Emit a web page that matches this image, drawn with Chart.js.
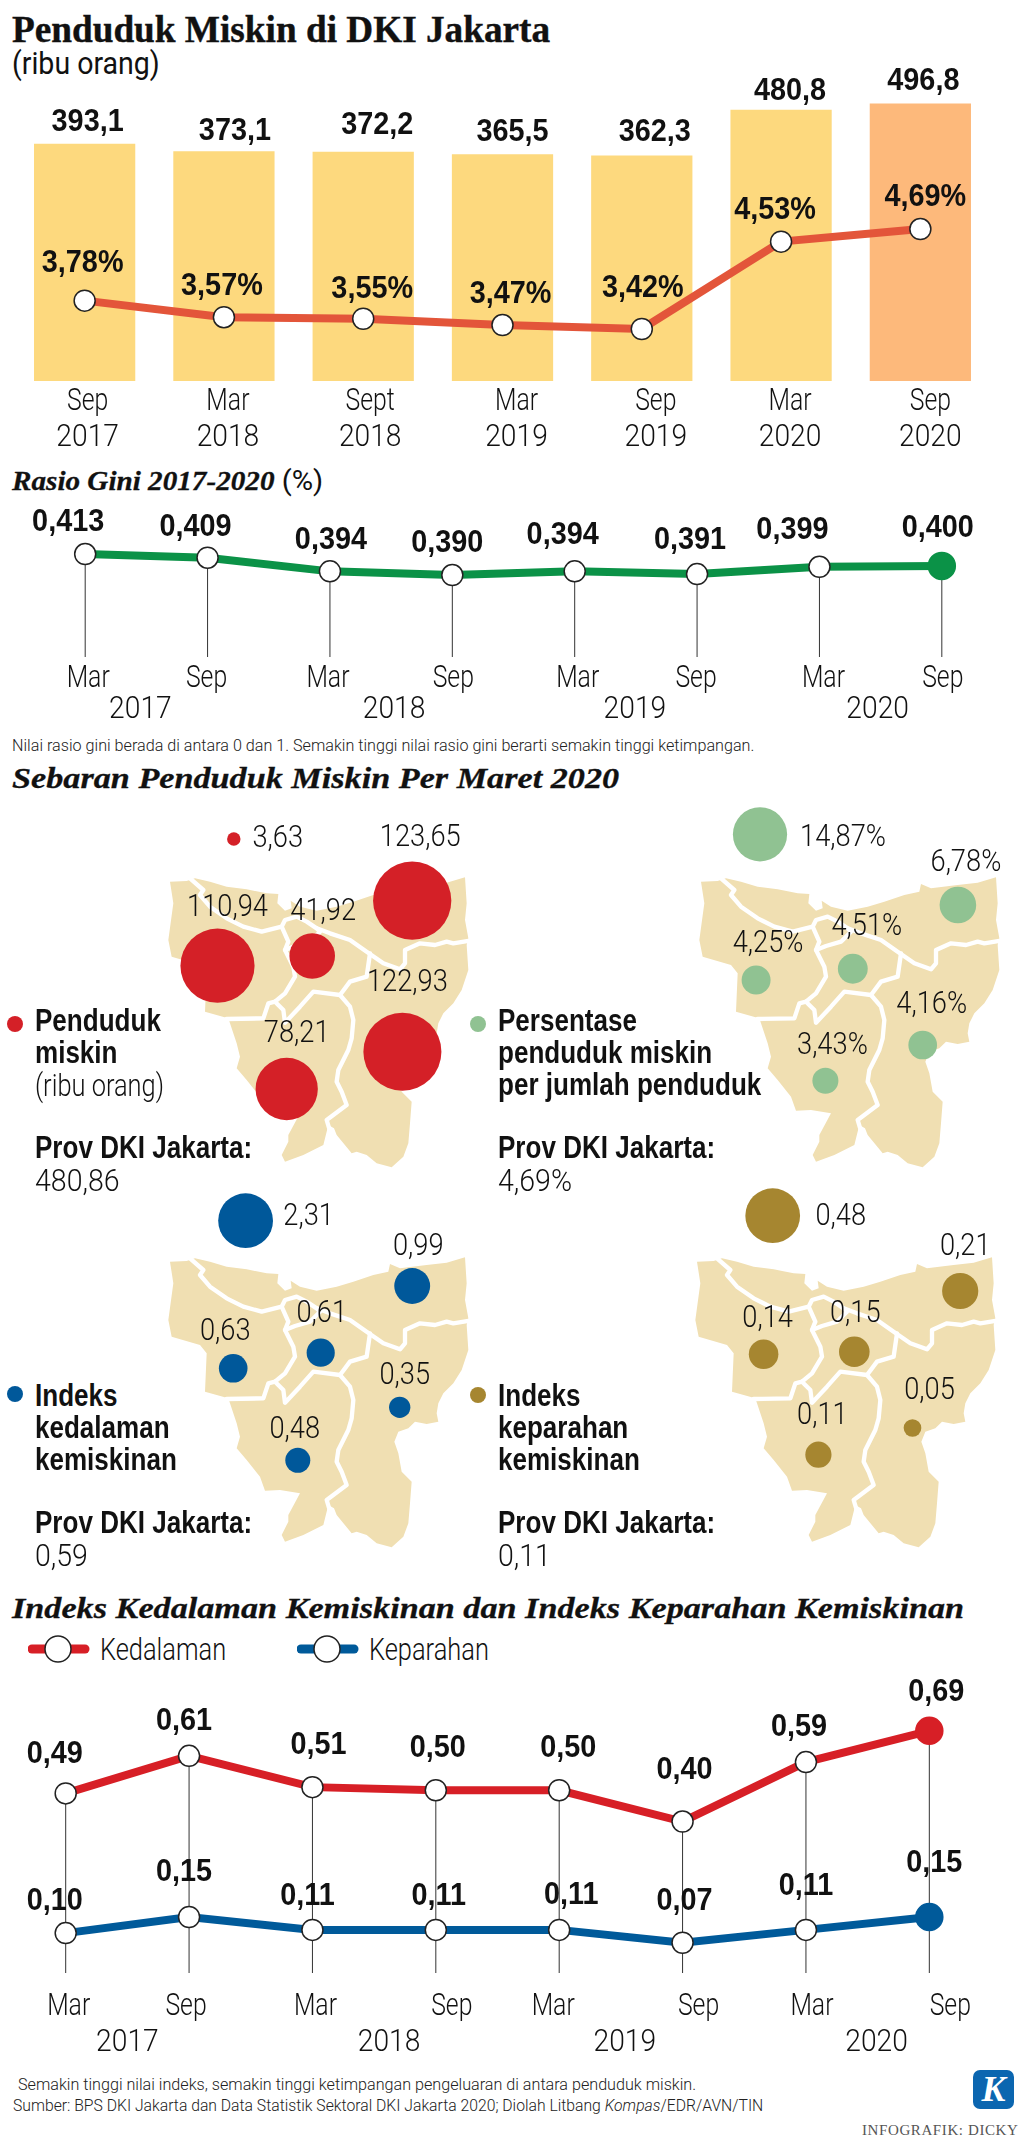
<!DOCTYPE html>
<html lang="id">
<head>
<meta charset="utf-8">
<title>Penduduk Miskin di DKI Jakarta</title>
<script src="https://cdn.jsdelivr.net/npm/chart.js@4"></script>
<style>
html, body { margin: 0; padding: 0; background: #fff; }
body { position: relative; width: 1024px; height: 2143px; overflow: hidden; color: #1a1a1a; font-family: 'Liberation Sans', sans-serif; }
canvas, svg.map, .dot, .logo, svg.key { position: absolute; }
.t { position: absolute; white-space: nowrap; transform: translateY(-50%) scaleX(var(--sx, 1)); transform-origin: left center; }
.head { font-family: 'Liberation Serif', serif; font-weight: bold; color: #111; -webkit-text-stroke: 0.4px #111; }
.sec { font-family: 'Liberation Serif', serif; font-weight: bold; font-style: italic; font-size: 30px; color: #111; --sx: 1.14; -webkit-text-stroke: 0.3px #111; }
.b { font-weight: bold; font-size: 31px; color: #111; --sx: 0.84; }
.n { font-family: Roboto, sans-serif; font-weight: 300; font-size: 31px; color: #111; --sx: 0.82; }
.note { font-family: Roboto, sans-serif; font-weight: 300; font-size: 17px; color: #222; --sx: 0.94; }
.dot { width: 16px; height: 16px; border-radius: 50%; transform: translate(-50%, -50%); }
.logo { left: 973px; top: 2070px; width: 41px; height: 39px; background: #0b66b0; border-radius: 7px; color: #fff; font: italic bold 36px/39px 'Liberation Serif', serif; text-align: center; }
</style>
</head>
<body>

<svg width="0" height="0" style="position:absolute">
  <symbol id="jakarta" viewBox="0 0 960 915">
    <path fill="#f0dfb2" d="M30,35 L80,33 L105,25 L150,35 L200,50 L260,58 L320,70 L355,72 L352,100 L375,122 L395,115 L392,92 L420,110 L470,122 L530,110 L580,95 L640,75 L685,65 L690,42 L720,55 L800,45 L860,38 L915,22 L920,100 L915,150 L925,205 L920,225 L925,300 L905,360 L880,400 L850,430 L835,460 L830,490 L835,515 L800,522 L765,515 L745,535 L715,545 L703,575 L715,610 L725,665 L755,695 L750,760 L745,820 L730,860 L695,892 L650,880 L620,855 L590,845 L575,850 L530,795 L522,775 L505,765 L490,825 L430,855 L375,875 L365,855 L385,815 L385,795 L420,730 L360,720 L315,722 L300,680 L260,630 L230,595 L240,560 L230,520 L210,460 L205,445 L135,425 L140,310 L120,285 L35,260 L25,210 L40,100 Z"/>
    <g fill="none" stroke="#fff" stroke-width="13" stroke-linejoin="round" stroke-linecap="round">
      <path d="M90,25 L130,60 L120,75 L150,110 L200,145 L250,170 L305,185 L365,170 L375,150 L410,140 L440,155 L470,175 L510,190 L570,210 L620,245 L670,280 L720,298 L735,280 L735,240 L780,220 L825,225 L860,215 L880,220 L930,212"/>
      <path d="M365,170 L385,215 L375,240 L400,290 L405,320 L375,370 L345,395 L325,400 L310,445 L200,447"/>
      <path d="M375,240 L405,228 L450,215 L480,185 L470,175"/>
      <path d="M630,250 L620,320 L570,335 L540,375 L460,365 L420,410 L375,458 L370,420 L345,395"/>
      <path d="M540,375 L570,410 L580,450 L575,505 L565,540 L535,600 L530,635 L545,665 L560,705 L520,735 L500,750 L512,790"/>
    </g>
  </symbol>
</svg>

<div class="t head" style="left:12px;top:29px;font-size:38px;--sx:0.98">Penduduk Miskin di DKI Jakarta</div>
<div class="t n" style="left:12px;top:63px;font-weight:400;--sx:0.92">(ribu orang)</div>
<canvas id="povertyChart" style="left:15px;top:60px" width="975" height="396"></canvas>

<div class="t sec" style="left:12px;top:481px;font-size:27px;--sx:1.08">Rasio Gini 2017-2020 <span style="font-family:Roboto;font-style:normal;font-weight:400;-webkit-text-stroke:0">(%)</span></div>
<canvas id="giniChart" style="left:24.4px;top:505px" width="979" height="221"></canvas>
<div class="t note" style="left:12px;top:745px;--sx:0.95">Nilai rasio gini berada di antara 0 dan 1. Semakin tinggi nilai rasio gini berarti semakin tinggi ketimpangan.</div>

<div class="t sec" style="left:12px;top:778px">Sebaran Penduduk Miskin Per Maret 2020</div>

<svg class="map" style="left:160px;top:870px" width="320" height="305"><use href="#jakarta"/></svg>
<svg class="map" style="left:690.6px;top:870px" width="320" height="305"><use href="#jakarta"/></svg>
<svg class="map" style="left:160px;top:1250px" width="320" height="305"><use href="#jakarta"/></svg>
<svg class="map" style="left:687px;top:1250px" width="320" height="305"><use href="#jakarta"/></svg>

<canvas id="poorMap" style="left:160px;top:800px" width="340" height="380"></canvas>
<canvas id="shareMap" style="left:690.6px;top:800px" width="340" height="380"></canvas>
<canvas id="depthMap" style="left:160px;top:1180px" width="340" height="380"></canvas>
<canvas id="severityMap" style="left:687px;top:1180px" width="340" height="380"></canvas>

<div class="dot" style="left:14.5px;top:1024px;background:#d42027"></div>
<div class="t b" style="left:35px;top:1021px">Penduduk</div>
<div class="t b" style="left:35px;top:1053px">miskin</div>
<div class="t n" style="left:35px;top:1085px">(ribu orang)</div>
<div class="t b" style="left:35px;top:1148px">Prov DKI Jakarta:</div>
<div class="t n" style="left:35px;top:1180px;--sx:0.92">480,86</div>

<div class="dot" style="left:478px;top:1024px;background:#90c292"></div>
<div class="t b" style="left:498px;top:1021px">Persentase</div>
<div class="t b" style="left:498px;top:1053px">penduduk miskin</div>
<div class="t b" style="left:498px;top:1085px">per jumlah penduduk</div>
<div class="t b" style="left:498px;top:1148px">Prov DKI Jakarta:</div>
<div class="t n" style="left:498px;top:1180px;--sx:0.92">4,69%</div>

<div class="dot" style="left:14.5px;top:1394px;background:#00589a"></div>
<div class="t b" style="left:35px;top:1396px">Indeks</div>
<div class="t b" style="left:35px;top:1428px">kedalaman</div>
<div class="t b" style="left:35px;top:1460px">kemiskinan</div>
<div class="t b" style="left:35px;top:1523px">Prov DKI Jakarta:</div>
<div class="t n" style="left:35px;top:1555px;--sx:0.92">0,59</div>

<div class="dot" style="left:478px;top:1395px;background:#a68630"></div>
<div class="t b" style="left:498px;top:1396px">Indeks</div>
<div class="t b" style="left:498px;top:1428px">keparahan</div>
<div class="t b" style="left:498px;top:1460px">kemiskinan</div>
<div class="t b" style="left:498px;top:1523px">Prov DKI Jakarta:</div>
<div class="t n" style="left:498px;top:1555px;--sx:0.92">0,11</div>

<div class="t sec" style="left:12px;top:1608px">Indeks Kedalaman Kemiskinan dan Indeks Keparahan Kemiskinan</div>

<svg class="key" style="left:28px;top:1630px" width="70" height="38">
  <line x1="4" y1="19" x2="57" y2="19" stroke="#d71f26" stroke-width="9" stroke-linecap="round"/>
  <circle cx="30" cy="19" r="13" fill="#fff" stroke="#222" stroke-width="1.5"/>
</svg>
<div class="t n" style="left:100px;top:1649px">Kedalaman</div>
<svg class="key" style="left:297px;top:1630px" width="70" height="38">
  <line x1="4" y1="19" x2="57" y2="19" stroke="#005a9a" stroke-width="9" stroke-linecap="round"/>
  <circle cx="30" cy="19" r="13" fill="#fff" stroke="#222" stroke-width="1.5"/>
</svg>
<div class="t n" style="left:369px;top:1649px">Keparahan</div>

<canvas id="indexChart" style="left:3.6px;top:1665px" width="987" height="394"></canvas>

<div class="t note" style="left:18px;top:2084px;--sx:0.95">Semakin tinggi nilai indeks, semakin tinggi ketimpangan pengeluaran di antara penduduk miskin.</div>
<div class="t note" style="left:13px;top:2105px;--sx:0.925">Sumber: BPS DKI Jakarta dan Data Statistik Sektoral DKI Jakarta 2020; Diolah Litbang <i>Kompas</i>/EDR/AVN/TIN</div>
<div class="logo">K</div>
<div class="t" style="left:862px;top:2130px;font:15px 'Liberation Serif',serif;letter-spacing:0.6px;color:#555">INFOGRAFIK: DICKY</div>

<script>
// Penduduk miskin (ribu orang) and persentase, per period
const povertyLabels = [['Sep', '2017'], ['Mar', '2018'], ['Sept', '2018'], ['Mar', '2019'], ['Sep', '2019'], ['Mar', '2020'], ['Sep', '2020']];
const povertyValues = [393.1, 373.1, 372.2, 365.5, 362.3, 480.8, 496.8];
const povertyRates = [3.78, 3.57, 3.55, 3.47, 3.42, 4.53, 4.69];

// Rasio gini and the two indeks share these periods
const monthLabels = ['Mar', 'Sep', 'Mar', 'Sep', 'Mar', 'Sep', 'Mar', 'Sep'];
const yearLabels = ['2017', '2018', '2019', '2020'];
const giniValues = [0.413, 0.409, 0.394, 0.390, 0.394, 0.391, 0.399, 0.400];
const depthValues = [0.49, 0.61, 0.51, 0.50, 0.50, 0.40, 0.59, 0.69];
const severityValues = [0.10, 0.15, 0.11, 0.11, 0.11, 0.07, 0.11, 0.15];

// Sebaran per wilayah, Maret 2020
const districts = ['Kepulauan Seribu', 'Jakarta Utara', 'Jakarta Barat', 'Jakarta Pusat', 'Jakarta Selatan', 'Jakarta Timur'];
const poorValues = [3.63, 123.65, 110.94, 41.92, 78.21, 122.93];
const shareValues = [14.87, 6.78, 4.25, 4.51, 3.43, 4.16];
const depthMapValues = [2.31, 0.99, 0.63, 0.61, 0.48, 0.35];
const severityMapValues = [0.48, 0.21, 0.14, 0.15, 0.11, 0.05];

// Where each bubble sits on its map
const poorMapX = [73.8, 252.2, 57.5, 152.2, 126.7, 242.4];
const poorMapY = [-31, 30.7, 95.7, 86, 219, 181.7];
const shareMapX = [69, 266.9, 65.1, 161.8, 134.4, 231.7];
const shareMapY = [-35.7, 35, 110, 98.7, 210.7, 175];
const depthMapX = [85.6, 252.2, 73.2, 160.7, 137.8, 239.7];
const depthMapY = [-29.3, 36, 118.3, 102.7, 210.3, 157.3];
const severityMapX = [85.7, 273.2, 76.6, 167.3, 131.4, 225.5];
const severityMapY = [-34.3, 41, 104.3, 101.7, 204.7, 178];

const BOLD_FONT = "bold 31px 'Liberation Sans', sans-serif";
const LIGHT_FONT = '300 31px Roboto, sans-serif';
const INK = '#111';
const comma = (v, d) => v.toFixed(d).replace('.', ',');

Chart.defaults.animation = false;
Chart.defaults.responsive = false;
Chart.defaults.layout.autoPadding = false;
Chart.defaults.plugins.legend.display = false;
Chart.defaults.plugins.tooltip.enabled = false;

// No condensed face is installed, so squeeze the text sideways
function narrowText(ctx, text, x, y, font, squeeze) {
    ctx.save();
    ctx.font = font;
    ctx.fillStyle = INK;
    ctx.textAlign = 'center';
    ctx.textBaseline = 'middle';
    ctx.translate(x, y);
    ctx.scale(squeeze, 1);
    ctx.fillText(text, 0, 0);
    ctx.restore();
}

// Value labels next to the marks, the original nudges each one by hand
const valueLabels = {
    id: 'valueLabels',
    afterDatasetsDraw(chart) {
        chart.data.datasets.forEach((ds, d) => {
            if (!ds.labelText) return;
            chart.getDatasetMeta(d).data.forEach((el, i) => {
                narrowText(chart.ctx, ds.labelText[i], el.x + ds.labelShift[i][0], el.y + ds.labelShift[i][1], ds.labelFont, ds.labelSqueeze);
            });
        });
    }
};

// Thin line from the top mark down to the month label
const dropLines = {
    id: 'dropLines',
    beforeDatasetsDraw(chart) {
        const ctx = chart.ctx;
        chart.getDatasetMeta(0).data.forEach(el => {
            ctx.save();
            ctx.strokeStyle = '#333';
            ctx.lineWidth = 1;
            ctx.beginPath();
            ctx.moveTo(el.x, el.y);
            ctx.lineTo(el.x, chart.chartArea.bottom);
            ctx.stroke();
            ctx.restore();
        });
    }
};

// Axis ticks, drawn here because the library cannot squeeze its labels
const axisLabels = {
    id: 'axisLabels',
    afterDraw(chart) {
        Object.values(chart.scales).forEach(scale => {
            if (scale.axis !== 'x') return;
            scale.ticks.forEach((tick, i) => {
                const lines = [].concat(tick.label);
                lines.forEach((line, l) => {
                    const y = scale.top + scale.options.ticks.padding + 20 + l * 36;
                    narrowText(chart.ctx, line, scale.getPixelForTick(i), y, LIGHT_FONT, /^\d/.test(line) ? 0.91 : 0.8);
                });
            });
        });
    }
};

// Tick labels in the original are not quite under their marks
function shiftTicks(shifts, band) {
    return scale => scale.ticks.forEach((tick, i) => { tick.value += shifts[i] / band; });
}

function timeAxis(labels, height, padding, shifts, band) {
    return {
        type: 'category',
        labels: labels,
        offset: true,
        position: 'bottom',
        grid: { display: false, drawTicks: false },
        border: { display: false },
        ticks: { display: false, autoSkip: false, padding: padding },
        afterFit: scale => { scale.height = height; },
        afterTickToLabelConversion: shiftTicks(shifts, band)
    };
}

function hiddenAxis(min, max) {
    return { type: 'linear', display: false, min: min, max: max };
}

function lineSeries(values, color, yAxisID, labelText, labelShift) {
    const last = values.length - 1;
    return {
        type: 'line',
        data: values,
        yAxisID: yAxisID,
        order: 0,
        clip: false,
        borderColor: color,
        borderWidth: 8,
        tension: 0,
        pointRadius: values.map((v, i) => (i === last ? 13.5 : 10.5)),
        pointBackgroundColor: values.map((v, i) => (i === last ? color : '#fff')),
        pointBorderColor: values.map((v, i) => (i === last ? color : '#222')),
        pointBorderWidth: 1.5,
        labelText: labelText,
        labelShift: labelShift,
        labelFont: BOLD_FONT,
        labelSqueeze: 0.93
    };
}

// Top chart: bars do not start from zero in the original
const barAxisMin = -221;
const BAR_LIGHT = '#fdd97e';
const BAR_LAST = '#fdb97b';
const rateSeries = lineSeries(povertyRates, '#e3553a', 'yRate',
    povertyRates.map(v => comma(v, 2) + '%'),
    [[-2, -37], [-2, -31], [9, -29], [8, -31], [1, -41], [-6, -31], [5, -32]]);
rateSeries.pointBackgroundColor = '#fff';
rateSeries.pointBorderColor = '#222';
rateSeries.pointRadius = 10.5;

new Chart(document.getElementById('povertyChart'), {
    data: {
        labels: povertyLabels,
        datasets: [
            {
                type: 'bar',
                data: povertyValues,
                yAxisID: 'yBar',
                base: barAxisMin,
                order: 1,
                barThickness: 100.6,
                backgroundColor: povertyValues.map((v, i) => (i === povertyValues.length - 1 ? BAR_LAST : BAR_LIGHT)),
                labelText: povertyValues.map(v => comma(v, 1)),
                labelShift: [[3, -22], [11, -20], [14, -27], [10, -22], [13, -23], [9, -19], [3, -22]],
                labelFont: BOLD_FONT,
                labelSqueeze: 0.93
            },
            rateSeries
        ]
    },
    options: {
        scales: {
            x: timeAxis(povertyLabels, 75, 1.5, [3, 4, 7, 14, 14, 9, 10], 139.3),
            yBar: hiddenAxis(barAxisMin, 610.6),
            yRate: hiddenAxis(2.759, 6.838)
        }
    },
    plugins: [valueLabels, axisLabels]
});

new Chart(document.getElementById('giniChart'), {
    data: {
        labels: monthLabels,
        datasets: [
            lineSeries(giniValues, '#0b9247', 'y',
                giniValues.map(v => comma(v, 3)),
                [[-17, -32], [-12, -30], [1, -31], [-5, -32], [-12, -36], [-7, -34], [-27, -36], [-4, -37]])
        ]
    },
    options: {
        scales: {
            x: timeAxis(monthLabels, 33, 2, [3, -1, -2, 1, 3, -1, 4, 1], 122.4),
            xYear: timeAxis(yearLabels, 36, 0, [-6, 3, -1, -3], 244.8),
            y: hiddenAxis(0.3002, 0.4667)
        }
    },
    plugins: [dropLines, valueLabels, axisLabels]
});

new Chart(document.getElementById('indexChart'), {
    data: {
        labels: monthLabels,
        datasets: [
            lineSeries(depthValues, '#d71f26', 'yDepth',
                depthValues.map(v => comma(v, 2)),
                [[-11, -39], [-5, -34], [6, -42], [2, -42], [9, -42], [2, -51], [-7, -35], [7, -38]]),
            lineSeries(severityValues, '#005a9a', 'ySeverity',
                severityValues.map(v => comma(v, 2)),
                [[-11, -32], [-5, -45], [-5, -33], [3, -33], [12, -34], [2, -41], [0, -43], [5, -54]])
        ]
    },
    options: {
        scales: {
            x: timeAxis(monthLabels, 50, 14.7, [3, -3, 3, 16, -6, 16, 6, 21], 123.4),
            xYear: timeAxis(yearLabels, 36, 0, [0, 15, 4, 9], 246.8),
            yDepth: hiddenAxis(-0.0838, 0.9002),
            ySeverity: hiddenAxis(-0.0239, 0.9326)
        }
    },
    plugins: [dropLines, valueLabels, axisLabels]
});

// Bubble area follows the value, so the radius goes with its square root
function bubbleMap(id, values, mapX, mapY, color, radiusScale, format, labelShift) {
    new Chart(document.getElementById(id), {
        type: 'bubble',
        data: {
            labels: districts,
            datasets: [{
                data: values.map((v, i) => ({ x: mapX[i], y: mapY[i], r: radiusScale * Math.sqrt(v) })),
                backgroundColor: color,
                borderWidth: 0,
                clip: false,
                labelText: values.map(format),
                labelShift: labelShift,
                labelFont: LIGHT_FONT,
                labelSqueeze: 0.88
            }]
        },
        options: {
            scales: {
                x: { type: 'linear', display: false, min: 0, max: 340 },
                y: { type: 'linear', display: false, min: -70, max: 310, reverse: true }
            }
        },
        plugins: [valueLabels]
    });
}

bubbleMap('poorMap', poorValues, poorMapX, poorMapY, '#d42027', 3.52, v => comma(v, 2),
    [[44, 0], [8, -62], [10, -57], [11, -44], [10, -55], [5, -68]]);
bubbleMap('shareMap', shareValues, shareMapX, shareMapY, '#90c292', 7.03, v => comma(v, 2) + '%',
    [[83, 4], [8, -42], [12, -36], [14, -41], [7, -34], [9, -40]]);
bubbleMap('depthMap', depthMapValues, depthMapX, depthMapY, '#00589a', 18.03, v => comma(v, 2),
    [[63, -3], [6, -39], [-8, -36], [1, -38], [-3, -30], [5, -31]]);
bubbleMap('severityMap', severityMapValues, severityMapX, severityMapY, '#a68630', 39.5, v => comma(v, 2),
    [[68, 2], [5, -44], [4, -35], [1, -37], [4, -38], [17, -37]]);
</script>
</body>
</html>
